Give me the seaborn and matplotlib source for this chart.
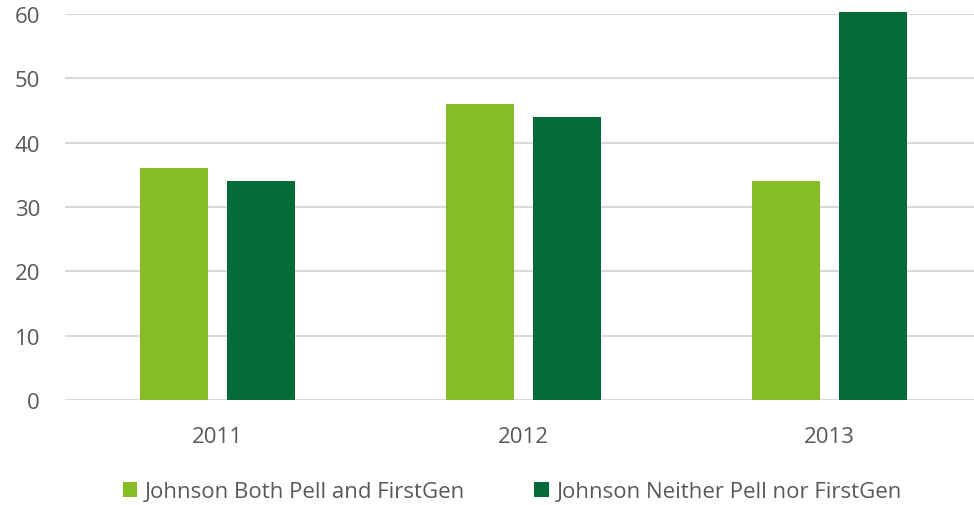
import matplotlib
matplotlib.use("Agg")
import matplotlib.pyplot as plt
import seaborn as sns
import pandas as pd
from matplotlib.patches import Patch

years = ["2011", "2012", "2013"]
series_names = ["Johnson Both Pell and FirstGen", "Johnson Neither Pell nor FirstGen"]
both_vals = [36, 46, 34]
neither_vals = [34, 44, 60.3]
y_ticks = [0, 10, 20, 30, 40, 50, 60]

colors = ["#86BC25", "#046A38"]
text_color = "#595959"

df = pd.DataFrame({
    "Year": years * 2,
    "Series": [series_names[0]] * 3 + [series_names[1]] * 3,
    "Value": both_vals + neither_vals,
})

sns.set_theme(style="white")
plt.rcParams["font.family"] = ["Open Sans", "DejaVu Sans"]

fig = plt.figure(figsize=(9.74, 5.06), dpi=100)
ax = fig.add_axes([65 / 974, 1 - 401 / 506, (974 - 65) / 974, (401 - 15) / 506])

sns.barplot(data=df, x="Year", y="Value", hue="Series", palette=colors,
            width=0.569, gap=0.219, ax=ax, legend=False, saturation=1, linewidth=0)
for p in ax.patches:
    p.set_clip_on(False)

ax.set_ylim(0, 60)
ax.set_xlim(-0.5, 2.474)
ax.set_yticks(y_ticks)
ax.yaxis.grid(True, color="#D9D9D9", linewidth=1.5)
ax.set_axisbelow(True)
for s in ax.spines.values():
    s.set_visible(False)
ax.set_xlabel("")
ax.set_ylabel("")
ax.tick_params(axis="both", length=0, labelsize=16, labelcolor=text_color)
ax.tick_params(axis="y", pad=18)
ax.tick_params(axis="x", pad=19)

handles = [Patch(facecolor=c, edgecolor="none") for c in colors]
fig.legend(handles, series_names, loc="center", bbox_to_anchor=(0.526, 1 - 493 / 506),
           ncol=2, frameon=False, fontsize=16, labelcolor=text_color,
           handlelength=0.65, handleheight=0.65, handletextpad=0.35, columnspacing=3.1)

fig.savefig("out.png", dpi=100)
